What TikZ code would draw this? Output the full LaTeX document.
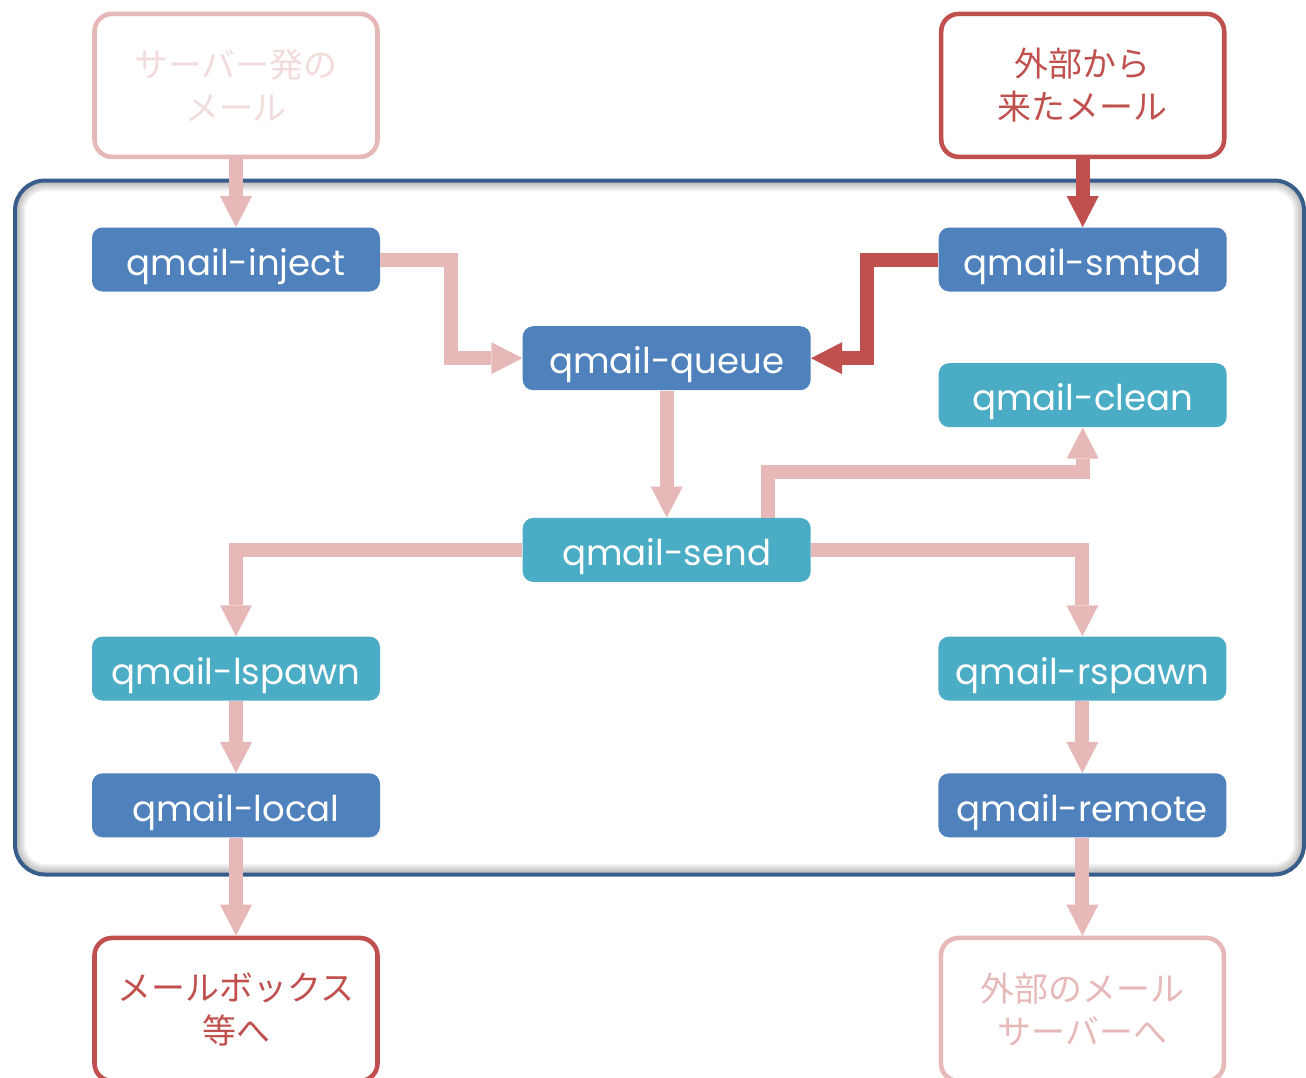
\documentclass[tikz,border=0pt]{standalone}
\usepackage{fontspec}
\setmainfont{Poppins}
\newfontfamily\jafont{Noto Sans CJK JP}
\usepackage{tikz}
\usetikzlibrary{arrows.meta,positioning}
\definecolor{qblue}{HTML}{4F81BD}
\definecolor{qteal}{HTML}{4BACC6}
\definecolor{qpink}{HTML}{E6B9B8}
\definecolor{qpale}{HTML}{F2DCDB}
\definecolor{qred}{HTML}{C0504D}
\definecolor{qframe}{HTML}{385D8A}

\begin{document}
\begin{tikzpicture}[
    proc/.style={rounded corners=6pt,minimum width=5.76cm,minimum height=1.28cm,inner sep=0pt,text height=0.8cm,text depth=0.17cm,text=white,font=\fontsize{20.2}{24}\selectfont},
    core/.style={proc,fill=qblue},
    helper/.style={proc,fill=qteal},
    outside/.style={rounded corners=10pt,line width=2.6pt,fill=white,align=center,minimum width=5.66cm,minimum height=2.86cm,inner sep=0pt,font=\jafont\fontsize{19.3}{24.5}\selectfont},
    flow/.style={line width=0.28cm,draw=qpink,-{Triangle[length=0.62cm,width=0.64cm,line width=0pt]}},
    flowred/.style={flow,draw=qred}
]
\useasboundingbox (0,0) rectangle (26.12,-21.56);

% frame with inner shadow
\fill[white,rounded corners=0.6cm] (0.30,-3.61) rectangle (26.08,-17.49);
\begin{scope}
  \clip[rounded corners=0.6cm] (0.30,-3.61) rectangle (26.08,-17.49);
  \foreach \w in {2,4,...,12}
    \draw[black,opacity=0.05,line width=\w pt,rounded corners=0.6cm] (0.30,-3.61) rectangle (26.08,-17.49);
\end{scope}
\draw[qframe,line width=0.08cm,rounded corners=0.6cm] (0.30,-3.61) rectangle (26.08,-17.49);

\node[core] (inject) at (4.72,-5.19) {qmail-inject};
\node[core,right=11.16cm of inject] (smtpd) {qmail-smtpd};
\node[core,below right=0.68cm and 2.84cm of inject] (queue) {qmail-queue};
\node[helper,below=1.42cm of smtpd] (clean) {qmail-clean};
\node[helper,below=2.54cm of queue] (send) {qmail-send};
\node[helper,below left=1.08cm and 2.84cm of send] (lspawn) {qmail-lspawn};
\node[helper,below right=1.08cm and 2.54cm of send] (rspawn) {qmail-rspawn};
\node[core,below=1.44cm of lspawn] (local) {qmail-local};
\node[core,below=1.44cm of rspawn] (remote) {qmail-remote};

\node[outside,draw=qpink,text=qpale,above=1.36cm of inject] (server) {サーバー発の\\メール};
\node[outside,draw=qred,text=qred,above=1.36cm of smtpd] (incoming) {外部から\\来たメール};
\node[outside,draw=qred,text=qred,below=1.96cm of local] (mailbox) {メールボックス\\等へ};
\node[outside,draw=qpink,text=qpink,below=1.96cm of remote] (relay) {外部のメール\\サーバーへ};

\draw[flow] (server) -- (inject);
\draw[flowred] (incoming) -- (smtpd);
\draw[flow] (inject.east) -- ++(1.42,0) |- (queue.west);
\draw[flowred] (smtpd.west) -- ++(-1.42,0) |- (queue.east);
\draw[flow] (queue) -- (send);
\draw[flow] ([xshift=2.03cm]send.north) -- ++(0,0.92) -| (clean.south);
\draw[flow] (send.west) -| (lspawn.north);
\draw[flow] (send.east) -| (rspawn.north);
\draw[flow] (lspawn) -- (local);
\draw[flow] (rspawn) -- (remote);
\draw[flow] (local) -- (mailbox);
\draw[flow] (remote) -- (relay);
\end{tikzpicture}
\end{document}
